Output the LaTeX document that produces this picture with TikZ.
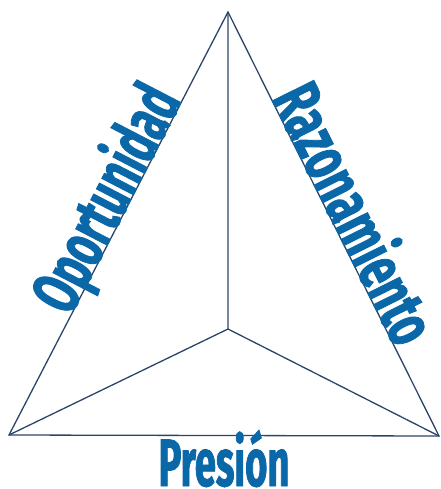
\documentclass[tikz,border=0pt]{standalone}
\usepackage{fontspec}
\usepackage{graphicx}
\newfontfamily\lblfont[FakeStretch=0.6,FakeBold=1.2]{Fira Sans}
\definecolor{edgecol}{HTML}{2B4568}
\definecolor{txtcol}{HTML}{0A67A8}
\begin{document}
\begin{tikzpicture}[x=1pt,y=-1pt,
  edge/.style={draw=edgecol,line width=1.3pt,line join=miter},
  lbl/.style={text=txtcol,font=\lblfont\bfseries\fontsize{67}{67}\selectfont,inner sep=0pt}]
\useasboundingbox (0,0) rectangle (440,489);
\coordinate (T) at (228,12);
\coordinate (L) at (9,435);
\coordinate (R) at (439,436);
\coordinate (C) at (228,329);
\draw[edge] (T) -- (L) -- (R) -- cycle;
\draw[edge] (C) -- (T) (C) -- (L) (C) -- (R);
\path (L) -- (T) node[pos=0.535,sloped,anchor=base,lbl] (op) {\scalebox{1.04}[1]{Oportunidad}};
\path (T) -- (R) node[pos=0.5,sloped,anchor=base,lbl] (ra) {\scalebox{1.07}[1]{Razonamiento}};
\node[lbl,anchor=base] (pr) at (224,486) {\scalebox{0.95}[1]{Presión}};
\end{tikzpicture}
\end{document}
